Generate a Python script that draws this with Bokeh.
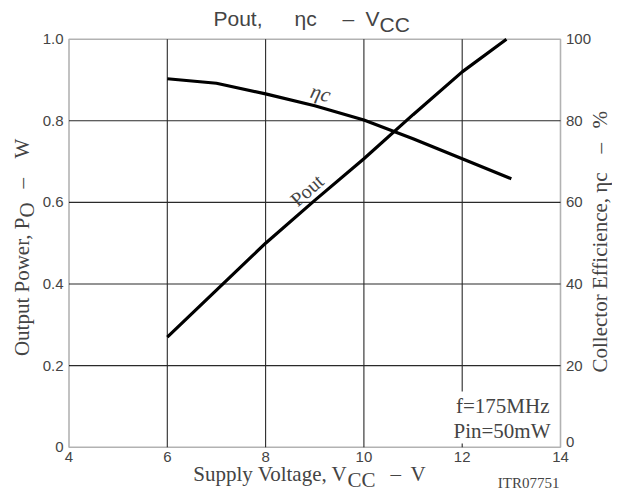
import math
from bokeh.plotting import figure
from bokeh.models import Range1d, Label, BoxAnnotation
from bokeh.embed import file_html
from bokeh.resources import INLINE

# ---- data ----
vcc_pout = [6, 7, 8, 9, 10, 11, 12, 12.9]
pout = [0.27, 0.385, 0.50, 0.605, 0.707, 0.815, 0.92, 1.0]
vcc_eff = [6, 7, 8, 9, 10, 11, 12, 13]
eff = [90.3, 89.2, 86.6, 83.7, 80.2, 75.6, 70.7, 65.8]

x_ticks = [4, 6, 8, 10, 12, 14]
x_tick_labels = ["4", "6", "8", "10", "12", "14"]
left_ticks = [0, 0.2, 0.4, 0.6, 0.8, 1.0]
left_tick_labels = ["0", "0.2", "0.4", "0.6", "0.8", "1.0"]
right_ticks = [0, 20, 40, 60, 80, 100]
right_tick_labels = ["0", "20", "40", "60", "80", "100"]

# ---- layout constants (pixels) ----
W, H = 612, 490
X_LEFT_PX = 68.5      # pixel of the left edge of the plot box
X_PPU = 49.15         # pixels per volt
Y_BOTTOM_PX = 446.7   # pixel of the bottom edge of the plot box
Y_PPU = 408.0         # pixels per watt

x_start = x_ticks[0] - X_LEFT_PX / X_PPU
x_end = x_start + W / X_PPU
y_end = left_ticks[0] + Y_BOTTOM_PX / Y_PPU
y_start = y_end - H / Y_PPU
eff_scale = right_ticks[-1] / left_ticks[-1]

SANS = "Liberation Sans"
SERIF = "Liberation Serif"

p = figure(width=W, height=H, output_backend="svg", toolbar_location=None,
           x_range=Range1d(x_start, x_end), y_range=Range1d(y_start, y_end),
           x_axis_location=None, y_axis_location=None, title_location=None,
           min_border=0)
p.extra_y_ranges = {"eff": Range1d(y_start * eff_scale, y_end * eff_scale)}
p.background_fill_color = "white"
p.border_fill_color = "white"
p.outline_line_color = None
p.xgrid.visible = False
p.ygrid.visible = False

# grid lines from the tick arrays
inner_x = x_ticks[1:-1]
inner_y = left_ticks[1:-1]
p.segment(x0=inner_x, y0=[left_ticks[0]] * len(inner_x), x1=inner_x,
          y1=[left_ticks[-1]] * len(inner_x), line_color="#2a2a2a", line_width=1.1)
p.segment(x0=[x_ticks[0]] * len(inner_y), y0=inner_y, x1=[x_ticks[-1]] * len(inner_y),
          y1=inner_y, line_color="#2a2a2a", line_width=1.1)

# curves
p.line(vcc_pout, pout, line_color="black", line_width=3.2)
p.line(vcc_eff, eff, line_color="black", line_width=3.2, y_range_name="eff")

# plot box
p.add_layout(BoxAnnotation(left=x_ticks[0], right=x_ticks[-1], bottom=left_ticks[0],
                           top=left_ticks[-1], fill_alpha=0, line_color="black",
                           line_width=1.6))

# tick labels
TICK_SIZE = "15px"
for t, s in zip(x_ticks, x_tick_labels):
    p.add_layout(Label(x=t, y=left_ticks[0] - 4.5 / Y_PPU, text=s, text_font=SANS,
                       text_font_size=TICK_SIZE, text_align="center", text_baseline="top"))
for t, s in zip(left_ticks, left_tick_labels):
    p.add_layout(Label(x=x_ticks[0] - 5.5 / X_PPU, y=t, text=s, text_font=SANS,
                       text_font_size=TICK_SIZE, text_align="right", text_baseline="middle"))
for t, s in zip(right_ticks, right_tick_labels):
    # the lowest right-hand label sits just above the bottom edge in the reference
    base = "bottom" if t == right_ticks[0] else "middle"
    p.add_layout(Label(x=x_ticks[-1] + 5.5 / X_PPU, y=t, y_range_name="eff", text=s,
                       text_font=SANS, text_font_size=TICK_SIZE, text_align="left",
                       text_baseline=base))

# curve labels
p.add_layout(Label(x=9.12, y=0.868, text="ηc", text_font=SERIF, text_font_style="italic",
                   text_font_size="21px", text_align="center", text_baseline="middle",
                   angle=-0.26))
p.add_layout(Label(x=8.84, y=0.63, text="Pout", text_font=SERIF,
                   text_font_size="20px", text_align="center", text_baseline="middle",
                   angle=0.72))


def lab(px, py, text, font, size, align="left", angle=0.0, style="normal", bg=None, pad=0):
    """px, py: pixels from the top-left corner of the picture (py = text middle)."""
    kw = {}
    if bg is not None:
        kw = dict(background_fill_color=bg, padding=pad)
    p.add_layout(Label(x=px, y=H - py, x_units="screen", y_units="screen",
                       text=text, text_font=font, text_font_size=size, text_align=align,
                       text_baseline="middle", angle=angle, text_font_style=style, **kw))


# conditions
lab(551, 405, "f=175MHz", SERIF, "21px", align="right", bg="white", pad=2)
lab(551, 430, "Pin=50mW", SERIF, "21px", align="right", bg="white", pad=1)

# title: Pout,  ηc  –  V_CC
lab(213, 18, "Pout,", SANS, "21px")
lab(294, 18, "ηc", SANS, "21px")
lab(342, 18, "–", SANS, "21px")
lab(365, 18, "V", SANS, "21px")
lab(379, 24, "CC", SANS, "21px")

# x axis label: Supply Voltage, V_CC – V
lab(347, 473, "Supply Voltage, V", SERIF, "21px", align="right")
lab(347, 479, "CC", SERIF, "21px")
lab(390, 473, "–", SERIF, "21px")
lab(410, 473, "V", SERIF, "21px")
lab(559, 482, "ITR07751", SERIF, "15px", align="right")

# left axis label (reads upward): Output Power, P_O – W
half = math.pi / 2
lab(21, 217, "Output Power, P", SERIF, "21px", align="right", angle=half)
lab(26, 217, "O", SERIF, "21px", angle=half)
lab(21, 188, "–", SERIF, "21px", angle=half)
lab(21, 158, "W", SERIF, "21px", angle=half)

# right axis label (reads upward)
lab(599, 372, "Collector Efficience, ηc", SERIF, "21px", angle=half)
lab(599, 153, "–", SERIF, "21px", angle=half)
lab(599, 128, "%", SERIF, "21px", angle=half)

open("out.html", "w").write(file_html(p, INLINE))
